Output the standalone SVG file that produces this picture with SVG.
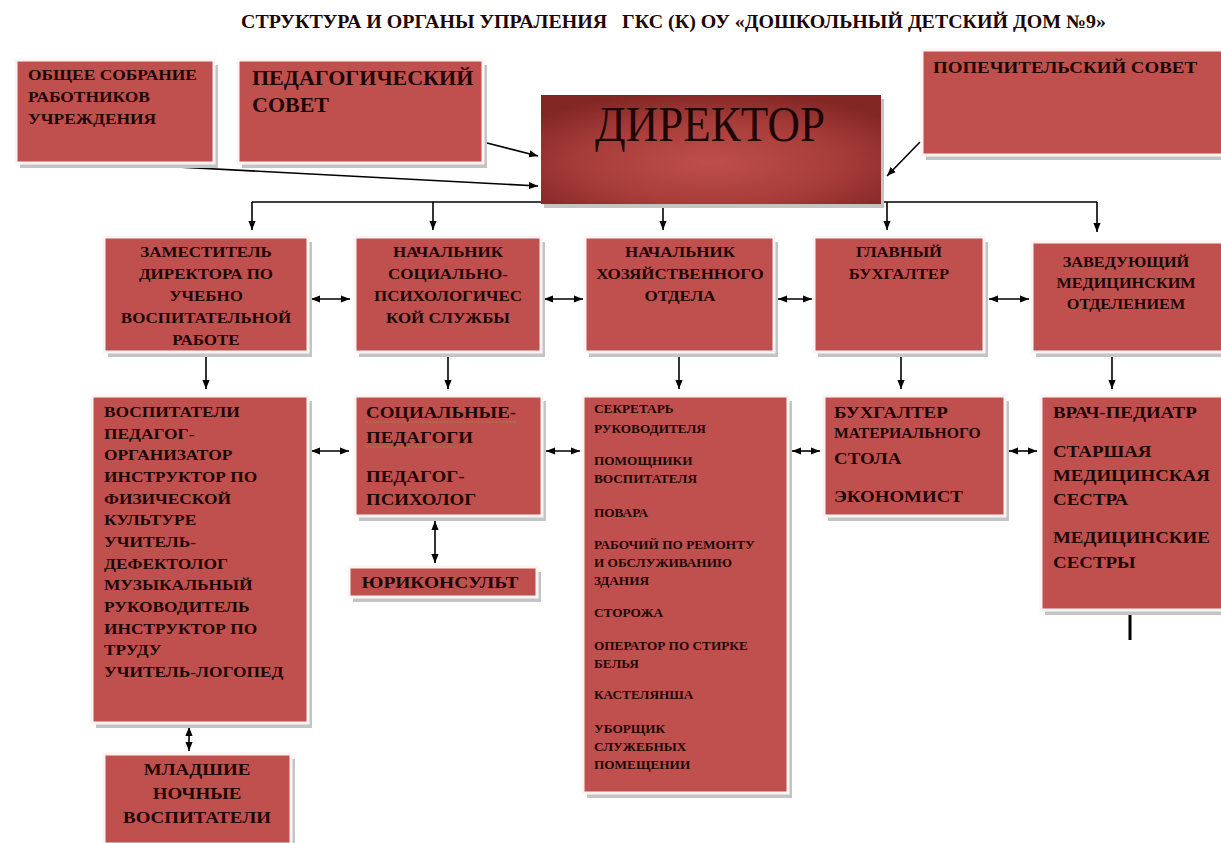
<svg xmlns="http://www.w3.org/2000/svg" width="1221" height="843" viewBox="0 0 1221 843">
<defs>
<style>
.box{fill:#C0504D;stroke:#fbf4f4;stroke-width:3}
.sh{fill:#c4c4c4}
.t{font-family:"Liberation Serif","Times New Roman",serif;font-weight:bold;fill:#1e0606}
.d{font-family:"Liberation Serif","Times New Roman",serif;font-weight:normal;fill:#1e0606}
.c{text-anchor:middle}
.ln{stroke:#000;stroke-width:1.6;fill:none}
.sq{stroke:#8a8f3a;stroke-width:1.2;stroke-dasharray:2 1.5;fill:none}
</style>
<marker id="ah" viewBox="0 0 10 10" refX="10" refY="5" markerWidth="9" markerHeight="9" markerUnits="userSpaceOnUse" orient="auto-start-reverse"><path d="M0,1 L10,5 L0,9 z" fill="#000"/></marker>
<radialGradient id="dg" cx="0.5" cy="0.62" r="0.65">
<stop offset="0" stop-color="#BF4E4B"/>
<stop offset="0.6" stop-color="#A63C39"/>
<stop offset="1" stop-color="#832725"/>
</radialGradient>
</defs>
<rect width="1221" height="843" fill="#fff"/>
<text class="t" x="241" y="28" font-size="19" textLength="865" lengthAdjust="spacingAndGlyphs" xml:space="preserve">СТРУКТУРА И ОРГАНЫ УПРАЛЕНИЯ   ГКС (К) ОУ «ДОШКОЛЬНЫЙ ДЕТСКИЙ ДОМ №9»</text>

<g id="connectors">
<path class="ln" d="M487,143 L538,156" marker-end="url(#ah)"/>
<path class="ln" d="M120,164 L538,186" marker-end="url(#ah)"/>
<path class="ln" d="M920,142 L887,176" marker-end="url(#ah)"/>
<path class="ln" d="M252,202 L1097,202"/>
<path class="ln" d="M252,202 V230" marker-end="url(#ah)"/>
<path class="ln" d="M433,202 V230" marker-end="url(#ah)"/>
<path class="ln" d="M663,202 V230" marker-end="url(#ah)"/>
<path class="ln" d="M887,202 V230" marker-end="url(#ah)"/>
<path class="ln" d="M1097,202 V232" marker-end="url(#ah)"/>
<path class="ln" d="M311,299 H350" marker-start="url(#ah)" marker-end="url(#ah)"/>
<path class="ln" d="M544,299 H583" marker-start="url(#ah)" marker-end="url(#ah)"/>
<path class="ln" d="M778,299 H812" marker-start="url(#ah)" marker-end="url(#ah)"/>
<path class="ln" d="M989,299 H1029" marker-start="url(#ah)" marker-end="url(#ah)"/>
<path class="ln" d="M206,356 V389" marker-end="url(#ah)"/>
<path class="ln" d="M448,356 V389" marker-end="url(#ah)"/>
<path class="ln" d="M679,356 V389" marker-end="url(#ah)"/>
<path class="ln" d="M901,356 V389" marker-end="url(#ah)"/>
<path class="ln" d="M1112,356 V389" marker-end="url(#ah)"/>
<path class="ln" d="M311,451 H349" marker-start="url(#ah)" marker-end="url(#ah)"/>
<path class="ln" d="M546,451 H580" marker-start="url(#ah)" marker-end="url(#ah)"/>
<path class="ln" d="M792,451 H820" marker-start="url(#ah)" marker-end="url(#ah)"/>
<path class="ln" d="M1009,451 H1037" marker-start="url(#ah)" marker-end="url(#ah)"/>
<path class="ln" d="M435,521 V563" marker-start="url(#ah)" marker-end="url(#ah)"/>
<path class="ln" d="M189,727 V751" marker-start="url(#ah)" marker-end="url(#ah)"/>
<path d="M1130,600 V611" stroke="#9a9a9a" stroke-width="3"/>
<path d="M1130,611 V640" stroke="#000" stroke-width="3"/>
</g>

<g id="n-obshee">
<rect class="sh" x="20" y="65" width="198" height="103"/>
<rect class="box" x="16" y="60" width="198" height="103"/>
<text class="t" font-size="15" transform="translate(28,0) scale(1.16,1)"><tspan x="0" y="80">ОБЩЕЕ СОБРАНИЕ</tspan><tspan x="0" y="102">РАБОТНИКОВ</tspan><tspan x="0" y="124">УЧРЕЖДЕНИЯ</tspan></text>
</g>
<g id="n-pedsovet">
<rect class="sh" x="242" y="65" width="245" height="103"/>
<rect class="box" x="238" y="60" width="245" height="103"/>
<text class="t" font-size="20" transform="translate(252,0) scale(1.1,1)"><tspan x="0" y="85">ПЕДАГОГИЧЕСКИЙ</tspan><tspan x="0" y="112">СОВЕТ</tspan></text>
</g>
<g id="n-director">
<rect class="sh" x="544" y="99" width="340" height="109"/>
<rect x="541" y="95" width="340" height="109" fill="url(#dg)"/>
<text class="d" x="710" y="141" font-size="50" text-anchor="middle" textLength="230" lengthAdjust="spacingAndGlyphs">ДИРЕКТОР</text>
</g>
<g id="n-popech">
<rect class="sh" x="926" y="55" width="295" height="105"/>
<rect class="box" x="922" y="50" width="301" height="105"/>
<text class="t" x="933" y="73" font-size="17.5" textLength="264" lengthAdjust="spacingAndGlyphs">ПОПЕЧИТЕЛЬСКИЙ СОВЕТ</text>
</g>

<g id="n-zam">
<rect class="sh" x="108" y="242" width="204" height="115"/>
<rect class="box" x="104" y="237" width="204" height="115"/>
<text class="t c" font-size="14.5" transform="translate(206,0) scale(1.17,1)"><tspan x="0" y="257">ЗАМЕСТИТЕЛЬ</tspan><tspan x="0" y="279">ДИРЕКТОРА ПО</tspan><tspan x="0" y="301">УЧЕБНО</tspan><tspan x="0" y="323">ВОСПИТАТЕЛЬНОЙ</tspan><tspan x="0" y="345">РАБОТЕ</tspan></text>
</g>
<g id="n-socpsy">
<rect class="sh" x="359" y="242" width="186" height="115"/>
<rect class="box" x="355" y="237" width="186" height="115"/>
<text class="t c" font-size="14.5" transform="translate(448,0) scale(1.17,1)"><tspan x="0" y="257">НАЧАЛЬНИК</tspan><tspan x="0" y="279">СОЦИАЛЬНО-</tspan><tspan x="0" y="301">ПСИХОЛОГИЧЕС</tspan><tspan x="0" y="323">КОЙ СЛУЖБЫ</tspan></text>
</g>
<g id="n-hoz">
<rect class="sh" x="589" y="242" width="189" height="115"/>
<rect class="box" x="585" y="237" width="189" height="115"/>
<text class="t c" font-size="14.5" transform="translate(680,0) scale(1.17,1)"><tspan x="0" y="257">НАЧАЛЬНИК</tspan><tspan x="0" y="279">ХОЗЯЙСТВЕННОГО</tspan><tspan x="0" y="301">ОТДЕЛА</tspan></text>
</g>
<g id="n-glavbuh">
<rect class="sh" x="818" y="242" width="170" height="115"/>
<rect class="box" x="814" y="237" width="170" height="115"/>
<text class="t c" font-size="14.5" transform="translate(899,0) scale(1.15,1)"><tspan x="0" y="257">ГЛАВНЫЙ</tspan><tspan x="0" y="279">БУХГАЛТЕР</tspan></text>
</g>
<g id="n-medzav">
<rect class="sh" x="1036" y="247" width="185" height="110"/>
<rect class="box" x="1032" y="242" width="191" height="110"/>
<text class="t c" font-size="14.5" transform="translate(1126,0) scale(1.12,1)"><tspan x="0" y="267">ЗАВЕДУЮЩИЙ</tspan><tspan x="0" y="288">МЕДИЦИНСКИМ</tspan><tspan x="0" y="309">ОТДЕЛЕНИЕМ</tspan></text>
</g>

<g id="n-vosp">
<rect class="sh" x="96" y="401" width="216" height="327"/>
<rect class="box" x="92" y="396" width="216" height="327"/>
<text class="t" font-size="15.5" transform="translate(104,0) scale(1.12,1)"><tspan x="0" y="417">ВОСПИТАТЕЛИ</tspan><tspan x="0" y="439">ПЕДАГОГ-</tspan><tspan x="0" y="460">ОРГАНИЗАТОР</tspan><tspan x="0" y="482">ИНСТРУКТОР ПО</tspan><tspan x="0" y="504">ФИЗИЧЕСКОЙ</tspan><tspan x="0" y="525">КУЛЬТУРЕ</tspan><tspan x="0" y="547">УЧИТЕЛЬ-</tspan><tspan x="0" y="569">ДЕФЕКТОЛОГ</tspan><tspan x="0" y="590">МУЗЫКАЛЬНЫЙ</tspan><tspan x="0" y="612">РУКОВОДИТЕЛЬ</tspan><tspan x="0" y="634">ИНСТРУКТОР ПО</tspan><tspan x="0" y="655">ТРУДУ</tspan><tspan x="0" y="677">УЧИТЕЛЬ-ЛОГОПЕД</tspan></text>
</g>
<g id="n-socped">
<rect class="sh" x="359" y="401" width="187" height="120"/>
<rect class="box" x="355" y="396" width="187" height="120"/>
<text class="t" font-size="17.5" transform="translate(366,0) scale(1.08,1)"><tspan x="0" y="418">СОЦИАЛЬНЫЕ-</tspan><tspan x="0" y="443">ПЕДАГОГИ</tspan><tspan x="0" y="482">ПЕДАГОГ-</tspan><tspan x="0" y="505">ПСИХОЛОГ</tspan></text>
<path class="sq" d="M366,422 H517 M366,447 H458"/>
</g>
<g id="n-jur">
<rect class="sh" x="353" y="572" width="188" height="30"/>
<rect class="box" x="349" y="567" width="188" height="30"/>
<text class="t c" x="440" y="588" font-size="16" textLength="157" lengthAdjust="spacingAndGlyphs">ЮРИКОНСУЛЬТ</text>
</g>
<g id="n-staff">
<rect class="sh" x="587" y="401" width="205" height="397"/>
<rect class="box" x="583" y="396" width="205" height="397"/>
<text class="t" font-size="12.5" transform="translate(594,0) scale(1.06,1)"><tspan x="0" y="413">СЕКРЕТАРЬ</tspan><tspan x="0" y="433">РУКОВОДИТЕЛЯ</tspan><tspan x="0" y="465">ПОМОЩНИКИ</tspan><tspan x="0" y="483">ВОСПИТАТЕЛЯ</tspan><tspan x="0" y="517">ПОВАРА</tspan><tspan x="0" y="549">РАБОЧИЙ ПО РЕМОНТУ</tspan><tspan x="0" y="567">И ОБСЛУЖИВАНИЮ</tspan><tspan x="0" y="585">ЗДАНИЯ</tspan><tspan x="0" y="617">СТОРОЖА</tspan><tspan x="0" y="650">ОПЕРАТОР ПО СТИРКЕ</tspan><tspan x="0" y="668">БЕЛЬЯ</tspan><tspan x="0" y="699">КАСТЕЛЯНША</tspan><tspan x="0" y="733">УБОРЩИК</tspan><tspan x="0" y="751">СЛУЖЕБНЫХ</tspan><tspan x="0" y="769">ПОМЕЩЕНИИ</tspan></text>
</g>
<g id="n-buh">
<rect class="sh" x="828" y="401" width="181" height="120"/>
<rect class="box" x="824" y="396" width="181" height="120"/>
<text class="t" transform="translate(834,0) scale(1.08,1)"><tspan x="0" y="418" font-size="17.5">БУХГАЛТЕР</tspan><tspan x="0" y="438" font-size="14.5">МАТЕРИАЛЬНОГО</tspan><tspan x="0" y="464" font-size="17.5">СТОЛА</tspan><tspan x="0" y="502" font-size="17.5">ЭКОНОМИСТ</tspan></text>
</g>
<g id="n-med">
<rect class="sh" x="1045" y="401" width="176" height="214"/>
<rect class="box" x="1041" y="396" width="182" height="214"/>
<text class="t" font-size="17.5" transform="translate(1053,0) scale(1.08,1)"><tspan x="0" y="418">ВРАЧ-ПЕДИАТР</tspan><tspan x="0" y="457">СТАРШАЯ</tspan><tspan x="0" y="481">МЕДИЦИНСКАЯ</tspan><tspan x="0" y="505">СЕСТРА</tspan><tspan x="0" y="543">МЕДИЦИНСКИЕ</tspan><tspan x="0" y="568">СЕСТРЫ</tspan></text>
</g>
<g id="n-mladshie">
<rect class="sh" x="108" y="759" width="187" height="84"/>
<rect class="box" x="104" y="754" width="187" height="90"/>
<text class="t c" font-size="17.5" transform="translate(197,0) scale(1.08,1)"><tspan x="0" y="775">МЛАДШИЕ</tspan><tspan x="0" y="799">НОЧНЫЕ</tspan><tspan x="0" y="823">ВОСПИТАТЕЛИ</tspan></text>
</g>
</svg>
